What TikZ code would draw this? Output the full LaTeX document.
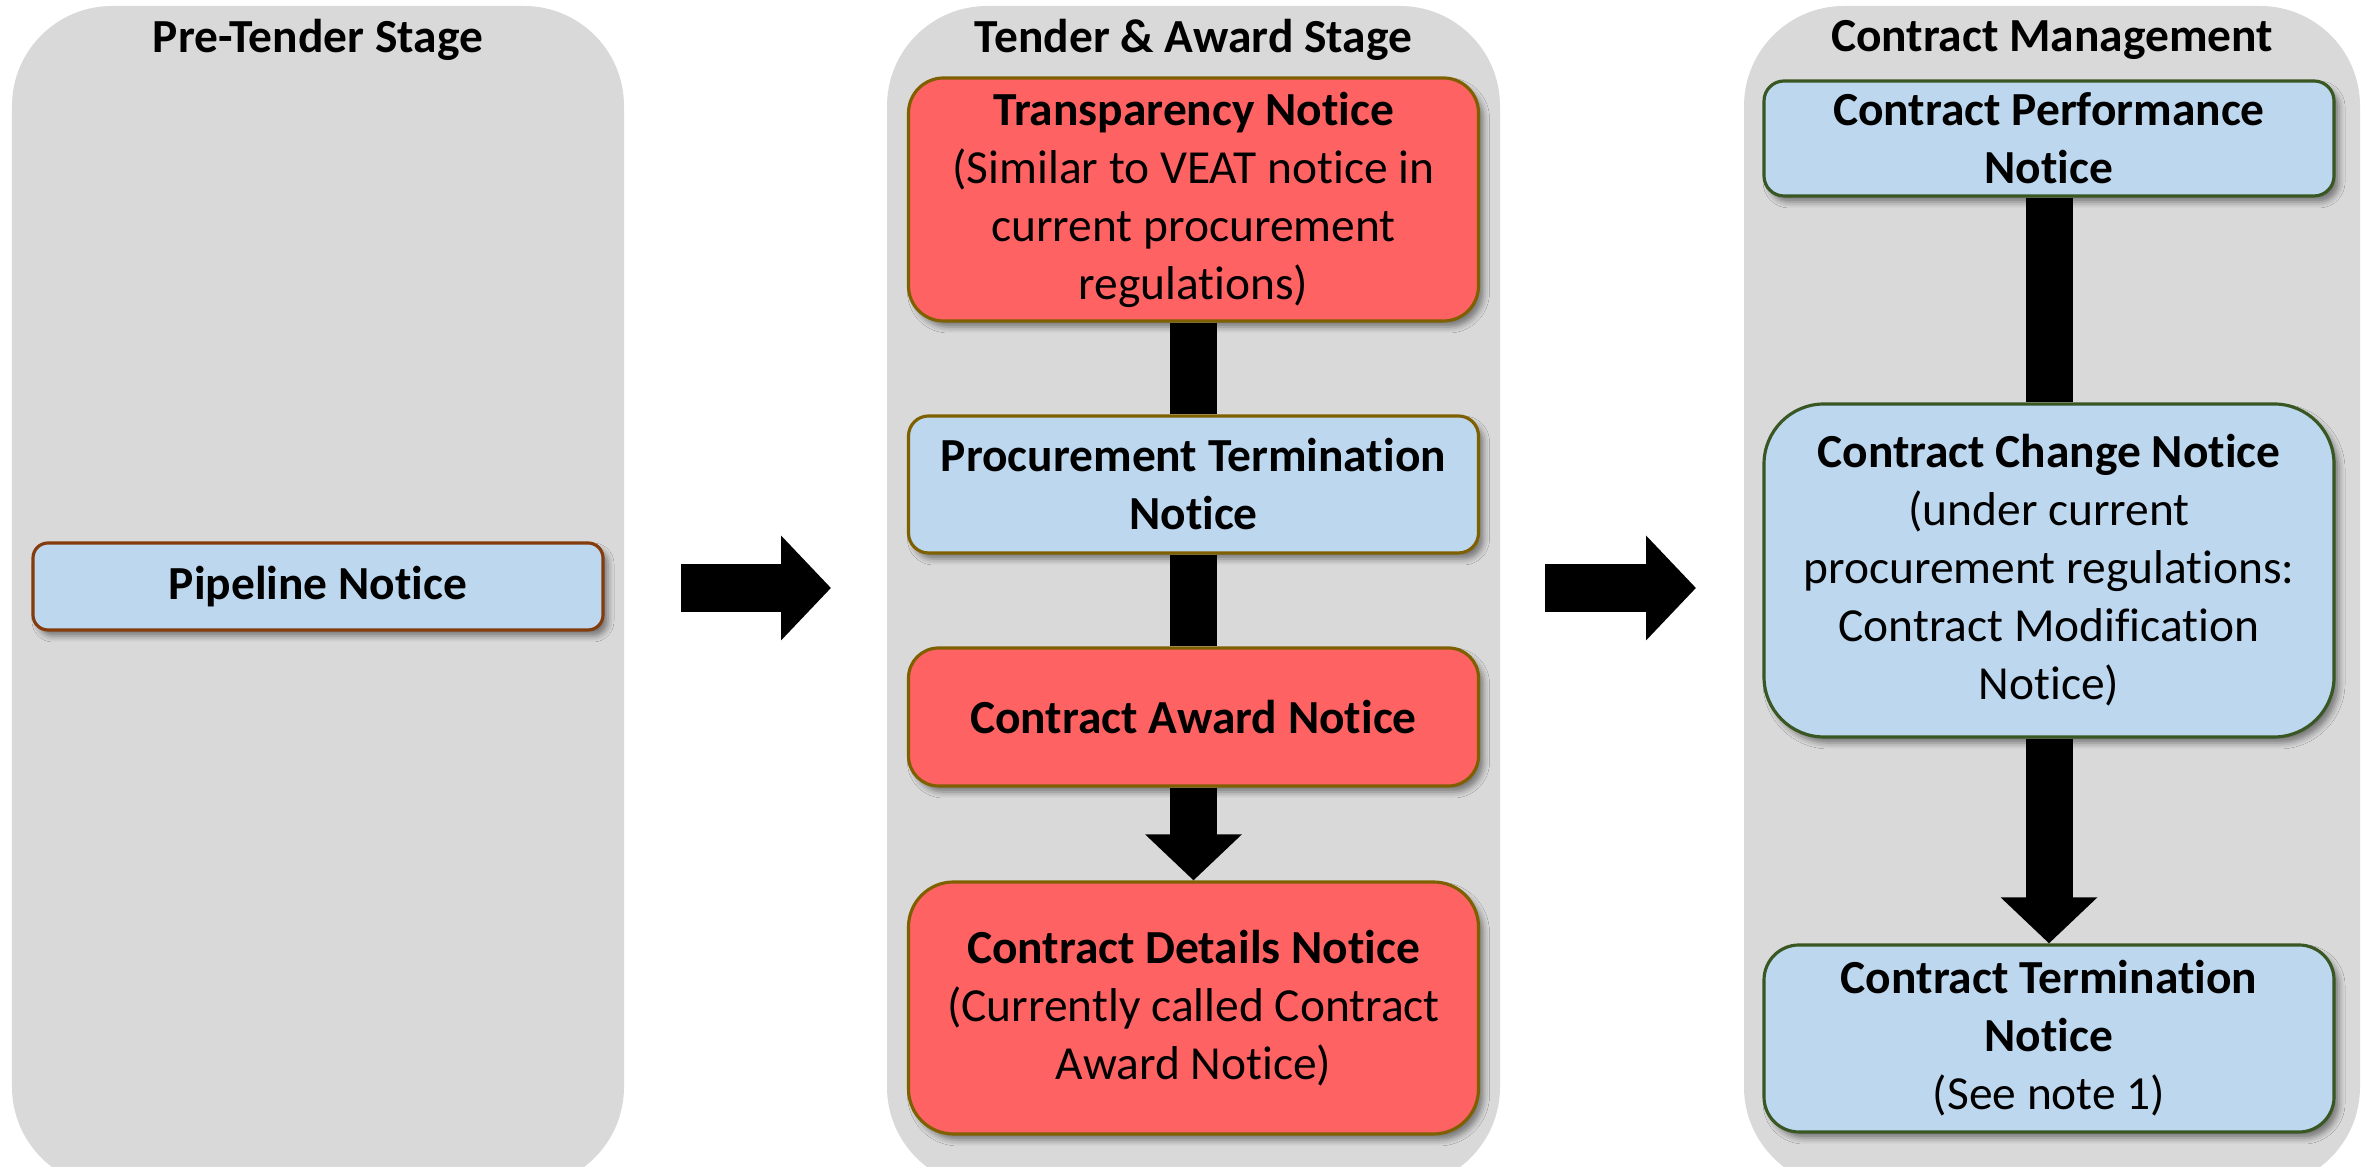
\documentclass[tikz,border=0pt]{standalone}
\usepackage{fontspec}
\setmainfont{Carlito}[Ligatures=NoCommon]
\usetikzlibrary{arrows.meta,shadows.blur}
\definecolor{panelgray}{HTML}{D9D9D9}
\definecolor{noticered}{HTML}{FF6262}
\definecolor{noticeblue}{HTML}{BDD7EE}
\definecolor{olive}{HTML}{7F6000}
\definecolor{rust}{HTML}{843C0C}
\definecolor{forest}{HTML}{385723}
\begin{document}
\begin{tikzpicture}[
    font=\fontsize{13.5}{16.5}\selectfont,
    panel/.style={fill=panelgray, rounded corners=1cm},
    title/.style={font=\fontsize{13.5}{16.5}\selectfont\bfseries},
    notice/.style={draw, line width=0.9pt, align=center, minimum width=5.7cm,
      inner sep=0pt, rounded corners=0.35cm,
      blur shadow={shadow xshift=0.05cm, shadow yshift=-0.06cm,
        shadow blur radius=0.06cm, shadow opacity=45}},
    rednotice/.style={notice, fill=noticered, draw=olive},
    bluenotice/.style={notice, fill=noticeblue},
    bar/.style={line width=0.47cm},
    downhead/.style={bar, -{Triangle[length=0.46cm, width=0.94cm]}},
    stagearrow/.style={line width=0.48cm, -{Triangle[length=0.5cm, width=1.02cm]}}]
      \useasboundingbox (0,0) rectangle (23.64,11.67);
      % stage panels
      \path[panel] (0.12,-0.2) rectangle (6.24,11.61);
      \path[panel] (8.87,-0.2) rectangle (15.00,11.61);
      \path[panel] (17.44,-0.2) rectangle (23.60,11.61);
      \node[title] (t1) at (3.18,11.27) {Pre-Tender Stage};
      \node[title] (t2) at (11.935,11.27) {Tender \& Award Stage};
      \node[title] (t3) at (20.52,11.27) {Contract Management};
      % pre-tender
      \node[bluenotice, draw=rust, minimum height=0.87cm, rounded corners=0.15cm]
        (pipe) at (3.18,5.805) {\textbf{Pipeline Notice}};
      % tender and award
      \node[rednotice, minimum height=2.43cm] (transp) at (11.935,9.675)
        {\textbf{Transparency Notice}\\(Similar to VEAT notice in\\current procurement\\regulations)};
      \node[bluenotice, draw=olive, minimum height=1.37cm, rounded corners=0.2cm]
        (proct) at (11.935,6.825) {\textbf{Procurement Termination}\\\textbf{Notice}};
      \node[rednotice, minimum height=1.38cm, rounded corners=0.3cm] (award) at (11.935,4.50)
        {\textbf{Contract Award Notice}};
      \node[rednotice, minimum height=2.52cm, rounded corners=0.45cm] (details) at (11.935,1.59)
        {\textbf{Contract Details Notice}\\(Currently called Contract\\Award Notice)};
      % contract management
      \node[bluenotice, draw=forest, minimum height=1.15cm, rounded corners=0.2cm]
        (perf) at (20.49,10.285) {\textbf{Contract Performance}\\\textbf{Notice}};
      \node[bluenotice, draw=forest, minimum height=3.33cm, rounded corners=0.6cm]
        (change) at (20.49,5.965) {\textbf{Contract Change Notice}\\(under current\\procurement regulations:\\Contract Modification\\Notice)};
      \node[bluenotice, draw=forest, minimum height=1.87cm, rounded corners=0.35cm]
        (term) at (20.49,1.285) {\textbf{Contract Termination}\\\textbf{Notice}\\(See note 1)};
      % connectors
      \draw[bar] (transp) -- (proct);
      \draw[bar] (proct) -- (award);
      \draw[downhead] (award) -- (details);
      \draw[bar] (perf) -- (change);
      \draw[downhead] (change) -- (term);
      \coordinate (s1) at (6.81,5.79);
      \coordinate (e1) at (8.31,5.79);
      \coordinate (s2) at (15.45,5.79);
      \coordinate (e2) at (16.96,5.79);
      \draw[stagearrow] (s1) -- (e1);
      \draw[stagearrow] (s2) -- (e2);
    \end{tikzpicture}
\end{document}
